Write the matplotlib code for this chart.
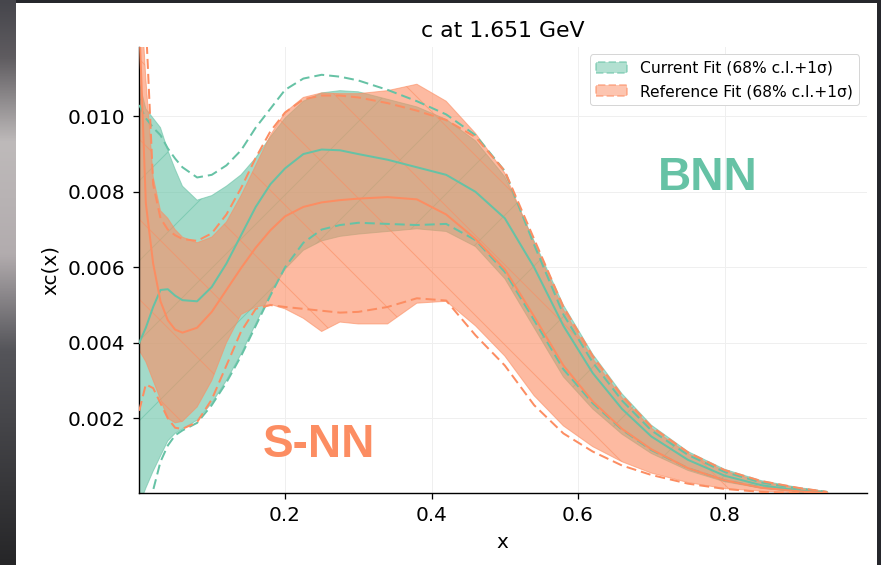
import numpy as np
import matplotlib
matplotlib.use("Agg")
import matplotlib.pyplot as plt
from matplotlib.patches import Patch, Rectangle
from matplotlib.ticker import FormatStrFormatter

# ---------------- data (values in units of 1e-3) ----------------
x = np.array([0.001, 0.01, 0.02, 0.03, 0.04, 0.05, 0.06, 0.08, 0.10, 0.12, 0.14, 0.16, 0.18,
              0.20, 0.225, 0.25, 0.275, 0.30, 0.34, 0.38, 0.42, 0.46, 0.50, 0.54, 0.58,
              0.62, 0.66, 0.70, 0.75, 0.80, 0.85, 0.90, 0.94])

# Current fit (BNN)
cur_cv = np.array([4.00, 4.40, 4.95, 5.40, 5.42, 5.25, 5.13, 5.10, 5.48, 6.10, 6.85, 7.60, 8.20,
                   8.62, 9.00, 9.12, 9.10, 9.00, 8.85, 8.65, 8.45, 8.00, 7.30, 6.00, 4.45,
                   3.20, 2.25, 1.52, 0.90, 0.48, 0.23, 0.09, 0.03])
cur_up = np.array([10.9, 10.2, 9.95, 9.70, 9.10, 8.60, 8.15, 7.78, 7.90, 8.15, 8.45, 8.90, 9.45,
                   9.95, 10.40, 10.62, 10.68, 10.65, 10.45, 10.25, 9.92, 9.35, 8.40, 6.70, 5.00,
                   3.70, 2.65, 1.82, 1.12, 0.65, 0.35, 0.17, 0.06])
cur_lo = np.array([-0.3, 0.15, 0.60, 1.00, 1.40, 1.60, 1.72, 1.95, 2.40, 3.00, 3.70, 4.50, 5.30,
                   5.95, 6.45, 6.70, 6.82, 6.88, 6.95, 7.02, 6.95, 6.55, 5.70, 4.40, 3.10,
                   2.25, 1.58, 1.07, 0.62, 0.32, 0.15, 0.06, 0.02])
cur_sup = np.array([10.3, 9.95, 9.70, 9.50, 9.15, 8.88, 8.65, 8.38, 8.45, 8.70, 9.10, 9.70, 10.20,
                    10.70, 11.00, 11.10, 11.05, 10.95, 10.70, 10.40, 10.05, 9.50, 8.55, 6.60, 4.75,
                    3.48, 2.47, 1.68, 1.03, 0.58, 0.30, 0.14, 0.05])
cur_sdn = np.array([-1.0, -0.4, 0.10, 0.85, 1.28, 1.55, 1.68, 1.88, 2.35, 2.95, 3.65, 4.45, 5.25,
                    6.00, 6.65, 7.00, 7.12, 7.18, 7.15, 7.12, 7.15, 6.72, 5.88, 4.60, 3.30,
                    2.40, 1.70, 1.16, 0.68, 0.36, 0.17, 0.07, 0.02])

# Reference fit (S-NN)
ref_cv = np.array([12.5, 7.70, 6.10, 5.10, 4.60, 4.35, 4.27, 4.40, 4.82, 5.40, 5.98, 6.52, 6.98,
                   7.35, 7.60, 7.72, 7.78, 7.82, 7.86, 7.80, 7.40, 6.75, 5.95, 4.70, 3.40,
                   2.45, 1.72, 1.18, 0.68, 0.36, 0.16, 0.07, 0.02])
ref_up = np.array([14.0, 11.0, 8.40, 7.50, 7.30, 7.00, 6.80, 6.65, 6.80, 7.20, 7.90, 8.70, 9.50,
                   10.10, 10.50, 10.62, 10.60, 10.60, 10.68, 10.85, 10.40, 9.55, 8.50, 6.65, 4.88,
                   3.58, 2.55, 1.74, 1.07, 0.61, 0.32, 0.15, 0.05])
ref_lo = np.array([3.80, 3.50, 3.00, 2.50, 2.00, 1.88, 1.92, 2.30, 3.00, 4.00, 4.75, 4.95, 5.02,
                   4.90, 4.65, 4.30, 4.55, 4.50, 4.50, 5.05, 5.10, 4.45, 3.65, 2.60, 1.80,
                   1.25, 0.85, 0.55, 0.30, 0.14, 0.07, 0.03, 0.01])
ref_sup = np.array([15.0, 12.5, 8.20, 7.30, 7.00, 6.85, 6.75, 6.70, 6.90, 7.40, 8.10, 8.90, 9.60,
                    10.10, 10.45, 10.55, 10.55, 10.50, 10.35, 10.15, 9.90, 9.45, 8.55, 6.75, 4.95,
                    3.65, 2.60, 1.78, 1.10, 0.63, 0.34, 0.16, 0.05])
ref_sdn = np.array([2.20, 2.90, 2.80, 2.40, 2.00, 1.75, 1.72, 1.90, 2.50, 3.40, 4.30, 4.90, 5.00,
                    4.95, 4.90, 4.85, 4.80, 4.82, 4.95, 5.18, 5.12, 4.20, 3.40, 2.35, 1.60,
                    1.12, 0.75, 0.50, 0.27, 0.13, 0.05, 0.02, 0.005])

SCALE = 1e-3
xticks = [0.2, 0.4, 0.6, 0.8]
yticks = [0.002, 0.004, 0.006, 0.008, 0.010]
labels = ["Current Fit (68% c.l.+1σ)", "Reference Fit (68% c.l.+1σ)"]
GREEN = "#66c2a5"
ORANGE = "#fc8d62"

# ---------------- figure ----------------
DPI = 240
W, H = 881, 565
S = 72.0 / DPI  # points per pixel

plt.rcParams["font.family"] = ["DejaVu Sans"]
plt.rcParams["hatch.linewidth"] = 1.0 * S

fig = plt.figure(figsize=(W / DPI, H / DPI), dpi=DPI, facecolor="#26272c")

# dark screenshot frame: gradient strip on the left, white panel
bg = fig.add_axes([0, 0, 16 / W, 1], zorder=-5)
bg.set_axis_off()
t = np.linspace(0, 1, 200)
stops = [0.0, 0.1, 0.25, 0.45, 0.62, 1.0]
rr = np.interp(t, stops, [70, 95, 190, 178, 85, 38])
gg = np.interp(t, stops, [70, 92, 186, 172, 85, 38])
bb = np.interp(t, stops, [76, 96, 186, 174, 90, 40])
grad = np.stack([rr, gg, bb], axis=1)[:, None, :] / 255.0
bg.imshow(grad, aspect="auto", extent=[0, 1, 0, 1])
fig.patches.append(Rectangle((16 / W, 0), (877 - 16) / W, (565 - 3) / H,
                             transform=fig.transFigure, facecolor="white",
                             edgecolor="none", zorder=-10))

ax = fig.add_axes([138.5 / W, (565 - 492.7) / H, (866.7 - 138.5) / W, (492.7 - 46.7) / H],
                  zorder=1)
ax.set_facecolor("white")

dash = (0, (5, 2.5))
ALPHA = 0.6
fits = [
    (cur_cv, cur_up, cur_lo, cur_sup, cur_sdn, GREEN, "/"),
    (ref_cv, ref_up, ref_lo, ref_sup, ref_sdn, ORANGE, "\\"),
]
for cv, up, lo, sup, sdn, col, hatch in fits:
    ax.fill_between(x, lo * SCALE, up * SCALE, facecolor=col, edgecolor=col,
                    alpha=ALPHA, hatch=hatch, linewidth=1.0 * S, zorder=2)
    ax.plot(x, cv * SCALE, color=col, lw=2.0 * S, zorder=3)
    ax.plot(x, sup * SCALE, color=col, lw=2.0 * S, ls=dash, zorder=3)
    ax.plot(x, sdn * SCALE, color=col, lw=2.0 * S, ls=dash, zorder=3)

ax.set_xlim(0.0, 0.994)
ax.set_ylim(0.00003, 0.011844)
ax.set_xticks(xticks)
ax.set_yticks(yticks)
ax.xaxis.set_major_formatter(FormatStrFormatter("%.1f"))
ax.yaxis.set_major_formatter(FormatStrFormatter("%.3f"))
ax.grid(True, color="#efefef", lw=1.0 * S)
ax.set_axisbelow(True)
for side in ("top", "right"):
    ax.spines[side].set_visible(False)
for side in ("left", "bottom"):
    ax.spines[side].set_linewidth(1.4 * S)
ax.tick_params(labelsize=20 * S, length=6 * S, width=1.3 * S, pad=7 * S, colors="black")

ax.set_title("c at 1.651 GeV", fontsize=22 * S, pad=10 * S)
ax.set_xlabel("x", fontsize=20 * S, labelpad=8 * S)
ax.set_ylabel("xc(x)", fontsize=20 * S, labelpad=8 * S)

handles = [
    Patch(facecolor=GREEN, edgecolor=GREEN, alpha=0.5, hatch="/", linestyle="--", linewidth=2 * S),
    Patch(facecolor=ORANGE, edgecolor=ORANGE, alpha=0.5, hatch="\\", linestyle="--", linewidth=2 * S),
]
leg = ax.legend(handles, labels, loc="upper right", fontsize=15.5 * S, frameon=True,
                fancybox=True, edgecolor="#d6d6d6", framealpha=1.0, labelspacing=0.55)
leg.get_frame().set_linewidth(1.0 * S)

ax.text(0.782, 0.706, "BNN", transform=ax.transAxes, ha="center", va="center",
        fontsize=46 * S, fontweight="bold", color=GREEN, family="Liberation Sans")
ax.text(0.248, 0.107, "S-NN", transform=ax.transAxes, ha="center", va="center",
        fontsize=46 * S, fontweight="bold", color=ORANGE, family="Liberation Sans")

fig.savefig("out.png", dpi=DPI, facecolor=fig.get_facecolor())
